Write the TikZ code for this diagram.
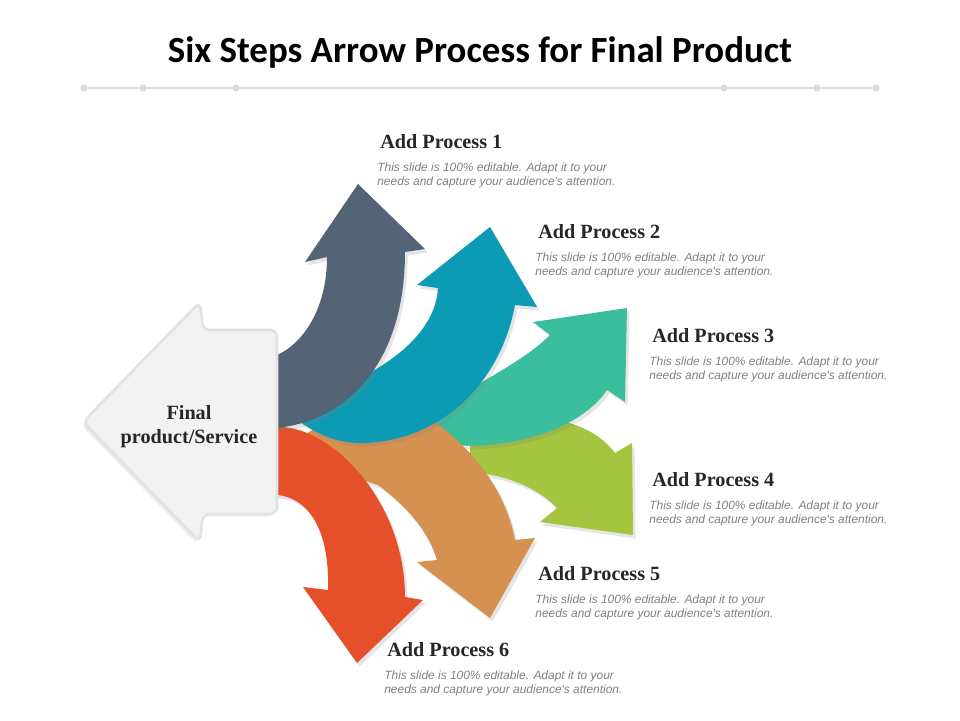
\documentclass[tikz,border=0pt]{standalone}
\usepackage{fontspec}
\setmainfont{Liberation Serif}
\newfontfamily\titlefont{Carlito}
\newfontfamily\notefont{Liberation Sans}
\usepackage{tikz}
\usetikzlibrary{positioning,shadows}

\definecolor{slateA}{RGB}{83,100,118}
\definecolor{tealA}{RGB}{12,155,181}
\definecolor{mintA}{RGB}{59,190,158}
\definecolor{greenA}{RGB}{165,196,64}
\definecolor{orangeA}{RGB}{212,145,80}
\definecolor{redA}{RGB}{229,80,42}
\definecolor{boxfill}{RGB}{242,242,242}
\definecolor{boxedge}{RGB}{226,226,226}
\definecolor{rulegray}{RGB}{218,218,218}
\definecolor{headgray}{RGB}{38,38,38}
\definecolor{notegray}{RGB}{128,128,128}

\begin{document}
\begin{tikzpicture}[x=0.02cm, y=-0.02cm,
  procname/.style={anchor=west, inner sep=0pt, text=headgray, font=\bfseries\fontsize{11.5}{13}\selectfont},
  proctext/.style={anchor=north west, inner sep=0pt, align=left, text=notegray, font=\notefont\itshape\fontsize{6.8}{8.5}\selectfont},
  swoosh/.style={drop shadow={shadow xshift=1.5pt, shadow yshift=-2pt, opacity=0.2}},
  ruledot/.style={circle, fill=rulegray, inner sep=0pt, minimum size=4pt}]
  \useasboundingbox (0,0) rectangle (960,720);
  \fill[white] (0,0) rectangle (960,720);
  % title
  \node[font=\titlefont\bfseries\fontsize{21}{25}\selectfont] (title) at (480,52) {Six Steps Arrow Process for Final Product};
  % rule with dots
  \foreach \x in {84,143,236,724,817,876} \node[ruledot] (r\x) at (\x,88) {};
  \draw[rulegray, line width=1.2pt] (r84) -- (r876);

  % arrow 4 (green)
  \fill[greenA, swoosh] (470,420) .. controls (540,410) and (590,420) .. (615,453)
    -- (632,443) -- (633,535) -- (540,522) -- (557,508)
    .. controls (540,490) and (510,475) .. (470,472) -- cycle;
  % arrow 3 (mint)
  \fill[mintA, swoosh] (440,410) .. controls (470,385) and (520,365) .. (550,335)
    -- (533,322) -- (627,308) -- (625,402) -- (607,390)
    .. controls (580,430) and (510,450) .. (450,445) -- (430,432) -- cycle;
  % arrow 5 (orange)
  \fill[orangeA, swoosh] (420,412) .. controls (465,440) and (505,485) .. (515,540)
    -- (535,538) -- (490,618) -- (417,562) -- (437,560)
    .. controls (428,530) and (405,505) .. (378,485) -- (330,470) -- (295,440) -- (330,420) -- cycle;
  % arrow 6 (red)
  \fill[redA, swoosh] (262,427) -- (277,427) .. controls (330,425) and (405,500) .. (405,597)
    -- (423,600) -- (357,663) -- (303,587) -- (328,590)
    .. controls (330,525) and (305,497) .. (277,495) -- (262,495) -- cycle;
  % arrow 2 (teal)
  \fill[tealA, swoosh] (300,400) .. controls (360,385) and (435,345) .. (438,288)
    -- (417,285) -- (490,227) -- (537,307) -- (515,305)
    .. controls (500,385) and (440,440) .. (365,443)
    .. controls (335,444) and (315,432) .. (300,422) -- cycle;
  % arrow 1 (slate)
  \fill[slateA, swoosh] (262,362) -- (277,355) .. controls (302,344) and (327,310) .. (327,257)
    -- (305,262) -- (358,184) -- (425,249) -- (405,252)
    .. controls (405,360) and (350,420) .. (277,428) -- (262,430) -- cycle;

  % final product block
  \filldraw[fill=boxfill, draw=boxedge, line width=1.5pt, rounded corners=4pt,
    drop shadow={shadow xshift=-1.5pt, shadow yshift=-1.5pt, opacity=0.12}]
    (83,422) -- (200,302) -- (203,330) -- (277,330) -- (277,514) -- (203,514) -- (200,542) -- cycle;
  \node[align=center, text=headgray, font=\bfseries\fontsize{11.5}{13.7}\selectfont] (final) at (189,427) {Final\\product/Service};

  % process labels
  \foreach \i/\x/\y in {1/380/142,2/538/232,3/652/336,4/652/480,5/538/574,6/387/650} {
    \node[procname] (p\i) at (\x,\y) {Add Process \i};
    \node[proctext] (t\i) at (\x-3,\y+20) {This slide is 100\% editable. Adapt it to your\\needs and capture your audience's attention.};
  }
\end{tikzpicture}
\end{document}
